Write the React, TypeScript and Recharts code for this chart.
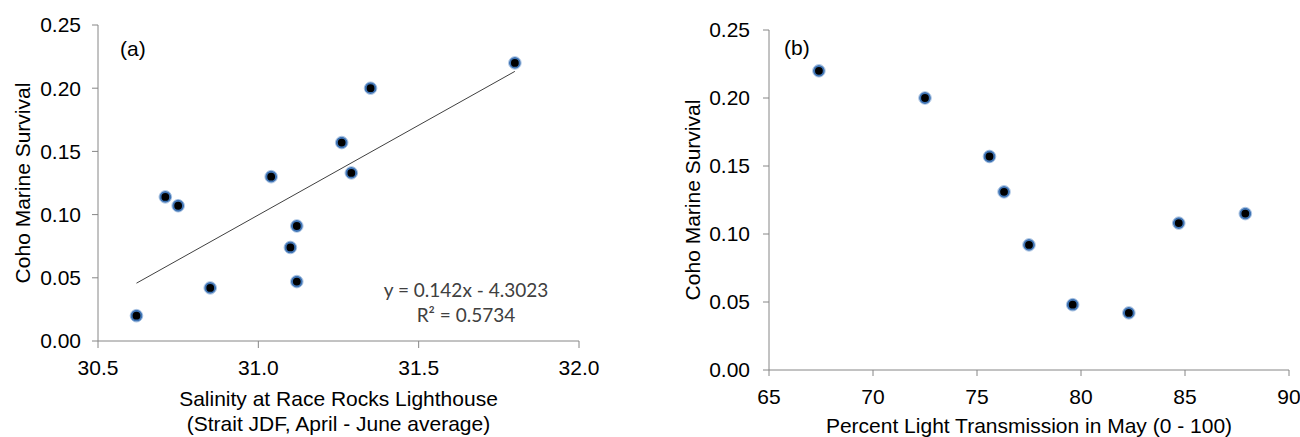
import React from 'react'
import {
  ScatterChart, Scatter, XAxis, YAxis, ReferenceLine, Label,
} from 'recharts'

// panel (a): salinity vs survival
const salinity = [30.62, 30.71, 30.75, 30.85, 31.04, 31.1, 31.12, 31.12, 31.26, 31.29, 31.35, 31.8]
const survivalA = [0.02, 0.114, 0.107, 0.042, 0.13, 0.074, 0.091, 0.047, 0.157, 0.133, 0.2, 0.22]

// panel (b): light transmission vs survival
const lightPct = [67.4, 72.5, 75.6, 76.3, 77.5, 79.6, 82.3, 84.7, 87.9]
const survivalB = [0.22, 0.2, 0.157, 0.131, 0.092, 0.048, 0.042, 0.108, 0.115]

const salinityTicks = [30.5, 31.0, 31.5, 32.0]
const lightTicks = [65, 70, 75, 80, 85, 90]
const survivalTicks = [0, 0.05, 0.1, 0.15, 0.2, 0.25]

// excel trendline shown on the chart
const trendSlope = 0.142
const trendIntercept = -4.3023
const trendX = [30.62, 31.8]

const ARIAL = '"Liberation Sans", Arial, sans-serif'
const CALIBRI = 'Lato, "Open Sans", sans-serif'
const AXIS_GRAY = '#868686'

const dataA = salinity.map((x, i) => ({ x, y: survivalA[i] }))
const dataB = lightPct.map((x, i) => ({ x, y: survivalB[i] }))

const Dot = (props: any) => {
  const { cx, cy } = props
  if (cx == null || cy == null) return null
  return (
    <g>
      <circle cx={cx} cy={cy} r={6.3} fill="none" stroke="#a9c3e3" strokeWidth={1} />
      <circle cx={cx} cy={cy} r={4.9} fill="#000" stroke="#3f74b5" strokeWidth={2} />
    </g>
  )
}

const yTitle = (dx: number, panel: string, panelDx: number, panelDy: number) => (props: any) => {
  const vb = props.viewBox || {}
  const cx = vb.x + dx
  const cy = vb.y + vb.height / 2
  return (
    <g>
      <text x={cx} y={cy} transform={`rotate(-90, ${cx}, ${cy})`} textAnchor="middle"
        dominantBaseline="central" fontFamily={ARIAL} fontSize={21} fill="#000">
        Coho Marine Survival
      </text>
      <text x={vb.x + vb.width + panelDx} y={vb.y + panelDy} dominantBaseline="central"
        fontFamily={ARIAL} fontSize={21} fill="#000">
        {panel}
      </text>
    </g>
  )
}

const xTitleA = (props: any) => {
  const vb = props.viewBox || {}
  const mid = vb.x + vb.width / 2
  return (
    <g>
      <text x={mid} y={vb.y + 57} textAnchor="middle" dominantBaseline="central" fontFamily={ARIAL} fontSize={21} fill="#000">
        Salinity at Race Rocks Lighthouse
      </text>
      <text x={mid} y={vb.y + 82} textAnchor="middle" dominantBaseline="central" fontFamily={ARIAL} fontSize={21} fill="#000">
        (Strait JDF, April - June average)
      </text>
      <text x={vb.x + 368} y={vb.y - 52} textAnchor="middle" dominantBaseline="central" fontFamily={CALIBRI} fontSize={19} fill="#404040">
        {`y = ${trendSlope}x - ${Math.abs(trendIntercept)}`}
      </text>
      <text x={vb.x + 368} y={vb.y - 27} textAnchor="middle" dominantBaseline="central" fontFamily={CALIBRI} fontSize={19} fill="#404040">
        R² = 0.5734
      </text>
    </g>
  )
}

const xTitleB = (props: any) => {
  const vb = props.viewBox || {}
  return (
    <text x={vb.x + vb.width / 2} y={vb.y + 55} textAnchor="middle" dominantBaseline="central"
      fontFamily={ARIAL} fontSize={21} fill="#000">
      Percent Light Transmission in May (0 - 100)
    </text>
  )
}

const tickStyle = { fontSize: 21, fill: '#000', fontFamily: ARIAL }

export default function App() {
  return (
    <div style={{ position: 'absolute', left: 0, top: 0, width: 1300, height: 437, background: '#fff' }}>
      <div style={{ position: 'absolute', left: 0, top: 0 }}>
        <ScatterChart width={650} height={437} margin={{ top: 25, right: 71, bottom: 36, left: 0 }}>
          <XAxis type="number" dataKey="x" domain={[30.5, 32]} ticks={salinityTicks} height={60}
            tickFormatter={(v: number) => v.toFixed(1)} tick={tickStyle} tickSize={7} tickMargin={12}
            axisLine={{ stroke: AXIS_GRAY }} tickLine={{ stroke: AXIS_GRAY }} allowDataOverflow>
            <Label content={xTitleA} />
          </XAxis>
          <YAxis type="number" dataKey="y" domain={[0, 0.25]} ticks={survivalTicks} width={98}
            tickFormatter={(v: number) => v.toFixed(2)} tick={tickStyle} tickSize={6} tickMargin={11}
            axisLine={{ stroke: AXIS_GRAY }} tickLine={{ stroke: AXIS_GRAY }} allowDataOverflow>
            <Label content={yTitle(22, '(a)', 22, 23)} />
          </YAxis>
          <ReferenceLine
            segment={trendX.map(x => ({ x, y: trendSlope * x + trendIntercept }))}
            stroke="#404040" strokeWidth={1}
          />
          <Scatter data={dataA} isAnimationActive={false} shape={Dot} />
        </ScatterChart>
      </div>
      <div style={{ position: 'absolute', left: 650, top: 0 }}>
        <ScatterChart width={650} height={437} margin={{ top: 30, right: 11, bottom: 7, left: 0 }}>
          <XAxis type="number" dataKey="x" domain={[65, 90]} ticks={lightTicks} height={60}
            tick={tickStyle} tickSize={6} tickMargin={13}
            axisLine={{ stroke: AXIS_GRAY }} tickLine={{ stroke: AXIS_GRAY }} allowDataOverflow>
            <Label content={xTitleB} />
          </XAxis>
          <YAxis type="number" dataKey="y" domain={[0, 0.25]} ticks={survivalTicks} width={119}
            tickFormatter={(v: number) => v.toFixed(2)} tick={tickStyle} tickSize={6} tickMargin={13}
            axisLine={{ stroke: AXIS_GRAY }} tickLine={{ stroke: AXIS_GRAY }} allowDataOverflow>
            <Label content={yTitle(42, '(b)', 15, 17)} />
          </YAxis>
          <Scatter data={dataB} isAnimationActive={false} shape={Dot} />
        </ScatterChart>
      </div>
    </div>
  )
}
